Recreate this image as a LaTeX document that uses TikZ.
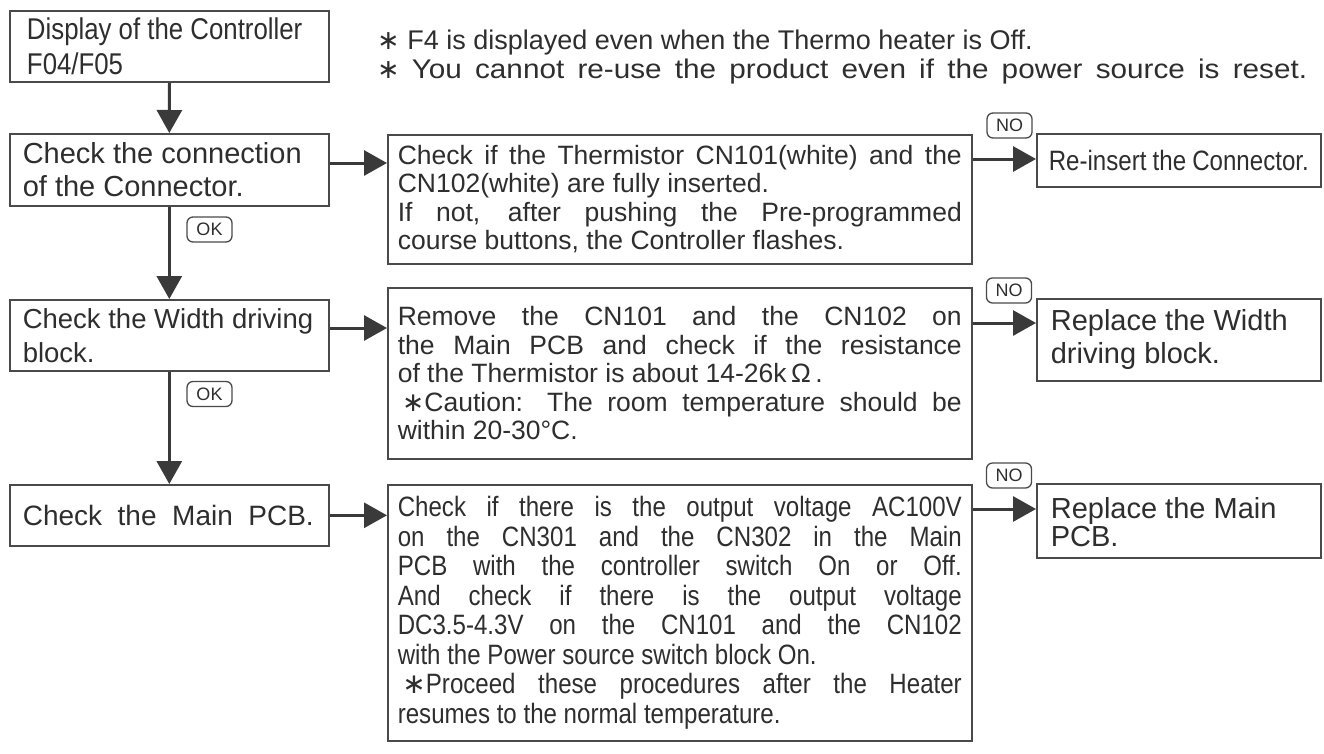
\documentclass[tikz,border=0pt]{standalone}
\usepackage{fontspec}
\setmainfont{Liberation Sans}
\newfontfamily\narrowfont[FakeStretch=0.86]{Liberation Sans}
\newfontfamily\widefont[FakeStretch=1.1]{Liberation Sans}
\newfontfamily\symfont{DejaVu Sans}
\usetikzlibrary{arrows.meta}
\definecolor{linecol}{HTML}{4A4A4A}
\definecolor{arrcol}{HTML}{3A3A3A}
\definecolor{txtcol}{HTML}{2E2E2E}
\newcommand{\starmark}{{\symfont ∗}}
\newcommand{\fsz}[2]{\fontsize{#1}{#2}\selectfont}
\newcommand{\jl}[2][564pt]{{\spaceskip=0pt\xspaceskip=0pt\makebox[#1][s]{#2}}}
\begin{document}
\begin{tikzpicture}[x=1pt,y=-1pt,
  box/.style={draw=linecol, line width=1.6pt, fill=white, anchor=north west,
    inner ysep=0pt, align=left, text=txtcol,
    execute at begin node={\spaceskip=0pt\xspaceskip=0pt\hyphenpenalty=10000}},
  arr/.style={draw=arrcol, line width=3pt, -{Triangle[length=23pt,width=25pt]}},
  tag/.style={draw=linecol, line width=1.3pt, rounded corners=6pt, minimum width=45pt,
    minimum height=25pt, inner sep=0pt, text=txtcol, font=\fsz{18}{18}},
  note/.style={anchor=west, inner sep=0pt, text=txtcol, font=\fsz{27}{30},
    execute at begin node={\spaceskip=0pt\xspaceskip=0pt}}]
\useasboundingbox (0,0) rectangle (1324,753);

% left column
\node[box, line width=2pt, inner xsep=17pt, text width=285pt, minimum width=319pt, minimum height=71pt,
  font=\narrowfont\fsz{30}{35}] (b1) at (9,10) {Display of the Controller\\F04/F05};
\node[box, inner xsep=13pt, text width=293pt, minimum width=319pt, minimum height=72pt,
  font=\fsz{29}{33}] (b2) at (9,133) {Check the connection\\of the Connector.};
\node[box, inner xsep=13pt, text width=293pt, minimum width=319pt, minimum height=71pt,
  font=\fsz{27.5}{34}] (b4) at (9,299) {Check the Width driving\\block.};
\node[box, inner xsep=13pt, text width=293pt, minimum width=319pt, minimum height=61pt,
  font=\fsz{28}{33}] (b6) at (9,484) {\jl[291pt]{Check the Main PCB.}};

% middle column
\node[box, inner xsep=10pt, text width=564pt, minimum width=584pt, minimum height=129pt,
  font=\fsz{26.5}{28.5}] (b3) at (387,134) {%
\jl{Check if the Thermistor CN101(white) and the}\\
CN102(white) are fully inserted.\\
\jl{If not, after pushing the Pre-programmed}\\
course buttons, the Controller flashes.};
\node[box, inner xsep=10pt, text width=564pt, minimum width=584pt, minimum height=171pt,
  font=\fsz{26.5}{28.5}] (b5) at (387,287) {%
\jl{Remove the CN101 and the CN102 on}\\
\jl{the Main PCB and check if the resistance}\\
of the Thermistor is about 14-26k\,Ω\,.\\
\jl{\,\starmark Caution: The room temperature should be}\\
within 20-30°C.};
\node[box, inner xsep=10pt, text width=564pt, minimum width=584pt, minimum height=256pt,
  font=\narrowfont\fsz{28}{29.5}] (b7) at (387,484) {%
\jl{Check if there is the output voltage AC100V}\\
\jl{on the CN301 and the CN302 in the Main}\\
\jl{PCB with the controller switch On or Off.}\\
\jl{And check if there is the output voltage}\\
\jl{DC3.5-4.3V on the CN101 and the CN102}\\
with the Power source switch block On.\\
\jl{\,\starmark Proceed these procedures after the Heater}\\
resumes to the normal temperature.};

% right column
\node[box, inner xsep=12pt, text width=260pt, minimum width=284pt, minimum height=53pt,
  font=\narrowfont\fsz{28}{32}] (r1) at (1036,133) {Re-insert the Connector.};
\node[box, inner xsep=14pt, text width=256pt, minimum width=284pt, minimum height=82pt,
  font=\fsz{29}{33}] (r2) at (1036,298) {Replace the Width\\driving block.};
\node[box, inner xsep=14pt, text width=256pt, minimum width=284pt, minimum height=74pt,
  font=\fsz{29}{28}] (r3) at (1036,483) {\rule{0pt}{24pt}Replace the Main\\PCB.};

% notes
\node[note] (n1) at (377,43) {\starmark\ F4 is displayed even when the Thermo heater is Off.};
\node[note] (n2) at (377,72) {\makebox[930pt][s]{\starmark\ {\widefont You cannot re-use the product even if the power source is reset.}}};

% vertical arrows
\draw[arr] (b1.south) -- (b2.north);
\draw[arr] (b2.south) -- (b4.north);
\draw[arr] (b4.south) -- (b6.north);

% horizontal arrows
\coordinate (h1) at ([yshift=-30pt]b2.north east);
\draw[arr] (h1) -- (h1 -| b3.west);
\coordinate (h2) at ([yshift=-25pt]b3.north east);
\draw[arr] (h2) -- (h2 -| r1.west);
\coordinate (h3) at ([yshift=-29pt]b4.north east);
\draw[arr] (h3) -- (h3 -| b5.west);
\coordinate (h4) at ([yshift=-25pt]r2.north west);
\draw[arr] (h4 -| b5.east) -- (h4);
\coordinate (h5) at (b6.east);
\draw[arr] (h5) -- (h5 -| b7.west);
\coordinate (h6) at ([yshift=-26pt]r3.north west);
\draw[arr] (h6 -| b7.east) -- (h6);

% tags
\node[tag] (ok1) at (209.5,229.5) {OK};
\node[tag] (ok2) at (209.5,394) {OK};
\node[tag] (no1) at (1009.5,125.5) {NO};
\node[tag] (no2) at (1009,290.5) {NO};
\node[tag] (no3) at (1009,475.5) {NO};
\end{tikzpicture}
\end{document}
